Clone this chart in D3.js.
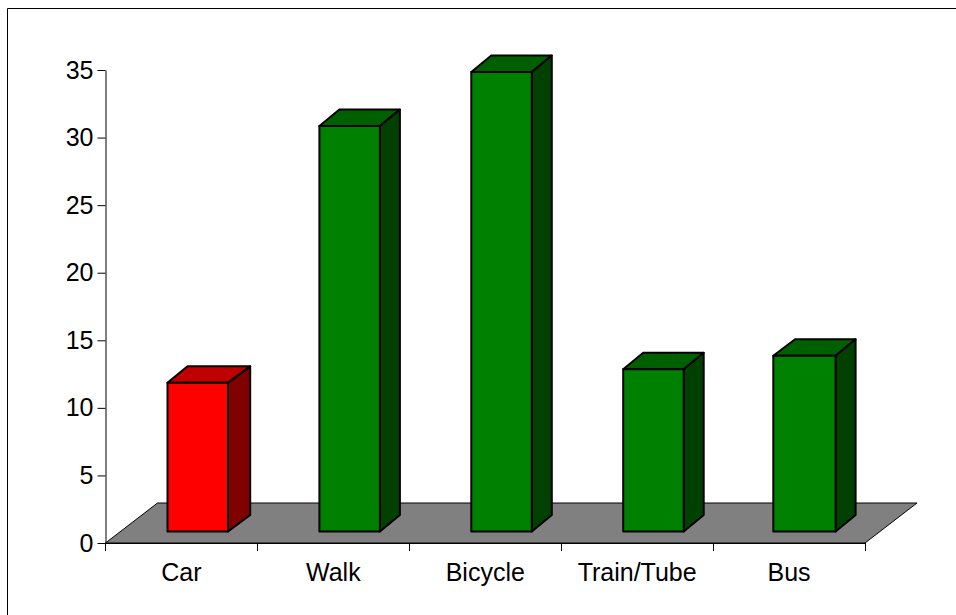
<!DOCTYPE html>
<html>
<head>
<meta charset="utf-8">
<script src="https://cdn.jsdelivr.net/npm/d3@7"></script>
<style>
    html, body { margin: 0; padding: 0; background: #fff; overflow: hidden; }
    text { font-family: "Liberation Sans", Arial, sans-serif; }
</style>
</head>
<body>
<div id="chart"></div>
<script>
const categories = ['Car', 'Walk', 'Bicycle', 'Train/Tube', 'Bus'];
const values = [11, 30, 34, 12, 13];
const yTicks = [0, 5, 10, 15, 20, 25, 30, 35];
const barColors = ['#ff0000', '#008000', '#008000', '#008000', '#008000'];

const width = 956;
const height = 615;
const fontSize = 25;

// 3d offsets, the floor is deeper than the bars
const floorDepth = { x: 52, y: -40 };
const barDepth = { x: 20, y: -16.5 };
const barShift = { x: 62, y: -11.5 };
const barWidth = 60.5;

const svg = d3.select('#chart').append('svg')
    .attr('width', width)
    .attr('height', height)
    .style('display', 'block');

const xScale = d3.scaleBand()
    .domain(categories)
    .range([105.5, 865]);

const yScale = d3.scaleLinear()
    .domain([0, 35])
    .range([543, 70]);

// outer frame, only top and left fall inside the picture
svg.append('path')
    .attr('d', `M7.5,${height + 5}V8.5H${width + 5}`)
    .attr('fill', 'none')
    .attr('stroke', '#000')
    .attr('stroke-width', 1);

// floor
const x0 = xScale.range()[0];
const x1 = xScale.range()[1];
const y0 = yScale(0);
svg.append('path')
    .attr('d', d3.line()([
        [x0, y0],
        [x0 + floorDepth.x, y0 + floorDepth.y],
        [x1 + floorDepth.x, y0 + floorDepth.y],
        [x1, y0]
    ]) + 'Z')
    .attr('fill', '#808080')
    .attr('stroke', '#000')
    .attr('stroke-width', 1);

const yAxis = d3.axisLeft(yScale)
    .tickValues(yTicks)
    .tickSize(8)
    .tickPadding(4)
    .tickSizeOuter(0);

const xAxis = d3.axisBottom(xScale)
    .tickSize(0)
    .tickPadding(20);

svg.append('g')
    .attr('transform', `translate(${x0},0)`)
    .call(yAxis);

const xAxisG = svg.append('g')
    .attr('transform', `translate(0,${y0})`)
    .call(xAxis);

// category ticks sit between the bands
const edges = categories.map(c => xScale(c)).concat(x1);
xAxisG.selectAll('.edge')
    .data(edges)
    .join('line')
    .attr('class', 'edge')
    .attr('x1', d => Math.round(d - 0.5) + 0.5)
    .attr('x2', d => Math.round(d - 0.5) + 0.5)
    .attr('y1', 0)
    .attr('y2', 8)
    .attr('stroke', '#000');

svg.selectAll('.domain').attr('stroke', '#000').attr('stroke-width', 1);
svg.selectAll('.tick line').attr('stroke', '#000');
svg.selectAll('.tick text')
    .attr('fill', '#000')
    .style('font-size', fontSize + 'px')
    .style('font-family', '"Liberation Sans", Arial, sans-serif');

// bars: front, top and side faces
const bars = svg.selectAll('.bar')
    .data(categories.map((c, i) => ({ name: c, value: values[i], color: barColors[i] })))
    .join('g')
    .attr('class', 'bar')
    .attr('stroke', '#000')
    .attr('stroke-width', 2)
    .attr('stroke-linejoin', 'round');

const bRight = d => xScale(d.name) + barShift.x + barWidth;
const bLeftBack = d => bRight(d) - barWidth + barDepth.x;
// first and last bars are a little off in the original
const bRightBack = d => bRight(d) + barDepth.x + (d.name === 'Car' ? 2.2 : 0);
const bLeft = d => bRight(d) - barWidth - (d.name === 'Bus' ? 1.8 : 0);
const bTop = d => yScale(d.value) + barShift.y;
const bBottom = () => y0 + barShift.y;
const shade = (color, k) => {
    const c = d3.rgb(color);
    return d3.rgb(c.r * k, c.g * k, c.b * k);
};

bars.append('path')
    .attr('fill', d => shade(d.color, 0.75))
    .attr('d', d => d3.line()([
        [bLeft(d), bTop(d)],
        [bLeftBack(d), bTop(d) + barDepth.y],
        [bRightBack(d), bTop(d) + barDepth.y],
        [bRight(d), bTop(d)]
    ]) + 'Z');

bars.append('path')
    .attr('fill', d => shade(d.color, 0.5))
    .attr('d', d => d3.line()([
        [bRight(d), bTop(d)],
        [bRightBack(d), bTop(d) + barDepth.y],
        [bRightBack(d), bBottom() + barDepth.y],
        [bRight(d), bBottom()]
    ]) + 'Z');

bars.append('rect')
    .attr('fill', d => d.color)
    .attr('x', bLeft)
    .attr('y', bTop)
    .attr('width', d => bRight(d) - bLeft(d))
    .attr('height', d => bBottom() - bTop(d));
</script>
</body>
</html>
